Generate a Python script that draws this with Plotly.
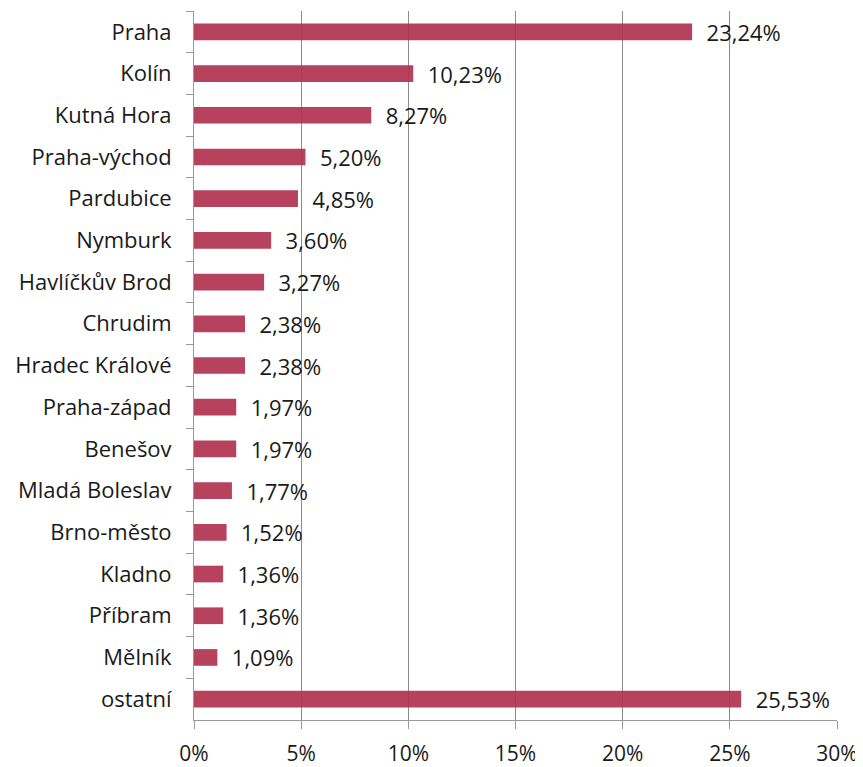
import plotly.graph_objects as go

districts = ["Praha", "Kolín", "Kutná Hora", "Praha-východ", "Pardubice", "Nymburk",
             "Havlíčkův Brod", "Chrudim", "Hradec Králové", "Praha-západ", "Benešov",
             "Mladá Boleslav", "Brno-město", "Kladno", "Příbram", "Mělník", "ostatní"]
shares = [23.24, 10.23, 8.27, 5.20, 4.85, 3.60, 3.27, 2.38, 2.38, 1.97, 1.97,
          1.77, 1.52, 1.36, 1.36, 1.09, 25.53]
tick_vals = [0, 5, 10, 15, 20, 25, 30]
tick_text = ["0%", "5%", "10%", "15%", "20%", "25%", "30%"]

fig = go.Figure()

fig.add_trace(go.Bar(
    x=shares,
    y=districts,
    orientation="h",
    marker=dict(color="rgb(176,50,80)", opacity=0.92, line=dict(width=0)),
    texttemplate="  %{x:.2f}%",
    textposition="outside",
    constraintext="none",
    textfont=dict(size=22, color="#1a1a1a"),
    cliponaxis=False,
))

# page body has an 8px margin, so the figure is a bit smaller than the window
fig.update_layout(
    width=855,
    height=759,
    margin=dict(l=186, r=26, t=3, b=47),
    plot_bgcolor="white",
    paper_bgcolor="white",
    font=dict(family="Open Sans, Noto Sans, sans-serif", size=20, color="#1a1a1a"),
    separators=", ",
    bargap=0.6,
    showlegend=False,
    xaxis=dict(
        range=[0, 30],
        tickvals=tick_vals,
        ticktext=tick_text,
        tickfont=dict(size=21),
        showgrid=True,
        gridcolor="#8c8c8c",
        gridwidth=1,
        showline=True,
        linecolor="#999999",
        ticks="outside",
        ticklen=8,
        tickcolor="#999999",
        ticklabelstandoff=7,
        zeroline=False,
        automargin=False,
    ),
    yaxis=dict(
        autorange="reversed",
        tickfont=dict(size=22),
        showline=True,
        linecolor="#999999",
        ticks="outside",
        ticklen=7,
        tickcolor="#999999",
        tickson="boundaries",
        ticklabelstandoff=17,
        automargin=False,
    ),
)

fig.write_html("out.html")
